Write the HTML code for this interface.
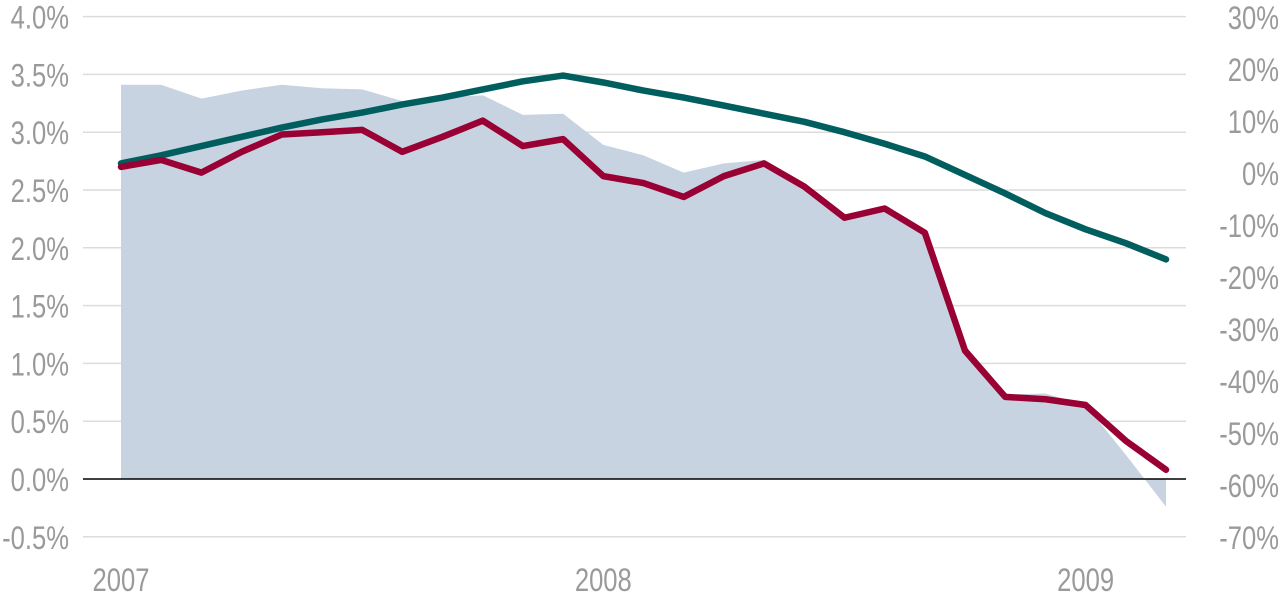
<!DOCTYPE html>
<html><head><meta charset="utf-8"><style>
html,body{margin:0;padding:0;background:#fff;}
svg text{font-family:"Liberation Sans Narrow","Liberation Sans",sans-serif;fill:#9a9a9a;font-size:32px;}
</style></head><body>
<svg id="chart" width="1280" height="593" viewBox="0 0 1280 593" xmlns="http://www.w3.org/2000/svg"></svg>
<script>
const months = 27;
const redValues = [2.70,2.76,2.65,2.83,2.98,3.00,3.02,2.83,2.96,3.10,2.88,2.94,2.62,2.56,2.44,2.62,2.73,2.53,2.26,2.34,2.13,1.11,0.71,0.69,0.64,0.33,0.08];
const greenValues = [2.73,2.80,2.88,2.96,3.04,3.11,3.17,3.24,3.30,3.37,3.44,3.49,3.43,3.36,3.30,3.23,3.16,3.09,3.00,2.90,2.79,2.63,2.47,2.30,2.16,2.04,1.90];
const areaValues = [3.41,3.41,3.29,3.36,3.41,3.38,3.37,3.27,3.30,3.32,3.15,3.16,2.89,2.80,2.65,2.73,2.76,2.55,2.27,2.36,2.15,1.13,0.73,0.74,0.64,0.21,-0.24];
const leftTicks = [4.0,3.5,3.0,2.5,2.0,1.5,1.0,0.5,0.0,-0.5];
const leftLabels = ["4.0%","3.5%","3.0%","2.5%","2.0%","1.5%","1.0%","0.5%","0.0%","-0.5%"];
const rightLabels = ["30%","20%","10%","0%","-10%","-20%","-30%","-40%","-50%","-60%","-70%"];
const rightTicks = [30,20,10,0,-10,-20,-30,-40,-50,-60,-70];
const xLabels = ["2007","2008","2009"];
const xLabelIdx = [0,12,24];

const svg = document.getElementById('chart');
const NS = 'http://www.w3.org/2000/svg';
const xS = i => 121 + i * (1166 - 121) / (months - 1);
const yL = v => 479 - v * 115.6;
const yR = v => 173 - v * 5.2;
const SX = 0.8;
function mk(tag, attrs){const e=document.createElementNS(NS,tag);for(const k in attrs)e.setAttribute(k,attrs[k]);svg.appendChild(e);return e;}
function txt(x,y,anchor){return mk('text',{x:0,y:0,'text-anchor':anchor,transform:'translate('+x+','+y+') scale('+SX+',1)'});}

leftTicks.forEach((t,i)=>{
  if(t===0) return;
  const g = mk('line',{x1:83,x2:1186,y1:yL(t),y2:yL(t),stroke:'#dcdcdc','stroke-width':1.5});
  
  
});
leftTicks.forEach((t,i)=>{
  const tx = txt(69,yL(t)+12,'end');
  tx.textContent = leftLabels[i];
  
  
});
rightTicks.forEach((t,i)=>{
  const tx = txt(1279,yR(t)+12,'end');
  tx.textContent = rightLabels[i];
  
  
});
xLabelIdx.forEach((idx,i)=>{
  const tx = txt(xS(idx),591,'middle');
  tx.textContent = xLabels[i];
  
  
});
let d = 'M'+xS(0)+','+yL(0);
areaValues.forEach((v,i)=>{d+=' L'+xS(i)+','+yL(v);});
d += ' L'+xS(months-1)+','+yL(0)+' Z';
const area = mk('path',{d:d,fill:'#c8d3e1'});


const zero = mk('line',{x1:83,x2:1186,y1:yL(0),y2:yL(0),stroke:'#000','stroke-width':1.5});


function line(vals,color,name){
  const p = mk('polyline',{points:vals.map((v,i)=>xS(i)+','+yL(v)).join(' '),fill:'none',stroke:color,'stroke-width':6.5,'stroke-linejoin':'round','stroke-linecap':'round'});
  
  
}
line(greenValues,'#005e5e','green-line');
line(redValues,'#990033','red-line');
</script>
</body></html>
